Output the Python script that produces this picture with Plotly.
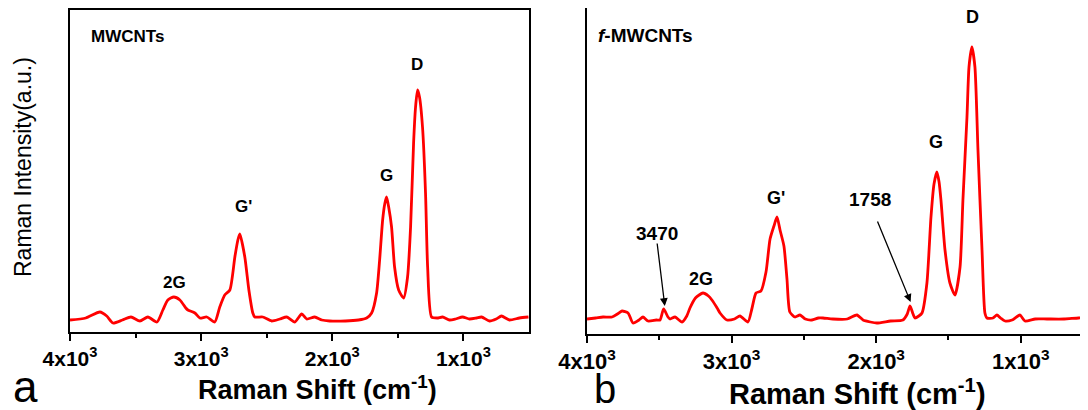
import plotly.graph_objects as go

# ---- data ----
# Panel a: MWCNTs
wn_a = [4000, 3880, 3772, 3720, 3672, 3600, 3535, 3467, 3406, 3337, 3292, 3254, 3208,
        3162, 3117, 3101, 3048, 3010, 2957, 2896, 2858, 2820, 2781, 2743, 2720, 2705,
        2667, 2636, 2606, 2591, 2530, 2462, 2400, 2347, 2286, 2233, 2195, 2134, 2080,
        2020, 1900, 1800, 1738, 1700, 1662, 1639, 1616, 1600, 1586, 1570, 1548, 1525,
        1494, 1456, 1426, 1403, 1380, 1365, 1350, 1335, 1312, 1289, 1273, 1243, 1200,
        1159, 1106, 1060, 1007, 954, 900, 862, 801, 750, 710, 649, 573, 504]
int_a = [12, 14, 20, 16, 9, 12, 15, 11, 15, 10, 22, 32, 35,
         32, 24, 22, 19, 14, 15, 10, 25, 37, 42, 75, 92, 98,
         75, 42, 19, 15, 15, 11, 13, 15, 10, 18, 13, 15, 12,
         11, 11, 12, 14, 19, 39, 72, 112, 128, 135, 125, 105, 65,
         42, 34, 55, 105, 189, 225, 242, 235, 205, 139, 65, 15, 14,
         15, 12, 13, 15, 13, 14, 15, 11, 13, 16, 12, 14, 15]

# Panel b: f-MWCNTs
wn_b = [4000, 3940, 3889, 3827, 3790, 3758, 3716, 3682, 3640, 3613, 3578, 3520, 3495,
        3470, 3440, 3426, 3391, 3343, 3310, 3288, 3250, 3198, 3160, 3136, 3100, 3080,
        3032, 2980, 2942, 2887, 2860, 2831, 2797, 2762, 2734, 2707, 2686, 2665, 2638,
        2617, 2597, 2562, 2527, 2490, 2444, 2400, 2368, 2300, 2200, 2133, 2091, 2040,
        1995, 1900, 1815, 1785, 1766, 1745, 1732, 1705, 1683, 1649, 1621, 1600, 1580,
        1565, 1552, 1524, 1490, 1455, 1420, 1400, 1372, 1358, 1338, 1317, 1296, 1268,
        1248, 1234, 1192, 1165, 1140, 1109, 1060, 1006, 971, 900, 819, 700, 600, 535]
int_b = [15, 16, 17, 17, 20, 23, 21, 11, 14, 17, 13, 14, 14,
         25, 17, 15, 17, 12, 18, 26, 36, 41, 38, 34, 26, 21,
         14, 15, 18, 12, 25, 41, 43, 62, 95, 108, 117, 104, 88,
         55, 22, 17, 19, 15, 14, 16, 16, 15, 15, 19, 14, 12,
         11, 13, 14, 20, 28, 20, 16, 18, 21, 51, 117, 150, 162,
         152, 134, 84, 51, 39, 67, 134, 217, 267, 287, 267, 184, 84,
         21, 16, 16, 19, 16, 13, 14, 19, 13, 15, 15, 15, 16, 16]

tick_vals = [4000, 3000, 2000, 1000]
tick_text = ["4x10<sup>3</sup>", "3x10<sup>3</sup>", "2x10<sup>3</sup>", "1x10<sup>3</sup>"]

# peak labels: (wavenumber, intensity, text)
labels_a = [(3200, 50, "2G"), (2675, 126, "G'"), (1586, 157, "G"), (1357, 267, "D")]
labels_b = [(3212, 55, "2G"), (2693, 136, "G'"), (1586, 192, "G"), (1337, 317, "D"),
            (3516, 101, "3470"), (2043, 135, "1758")]
arrows_b = [((3516, 92), (3462, 28)), ((1995, 114), (1762, 32))]

# page places the figure 8 px in from the top-left corner
OFF = 8
W, H = 1088 - OFF, 410 - OFF
FONT = "Arial, 'Liberation Sans', sans-serif"
RED = "#ff0000"


def px(x):
    return min(max((x - OFF) / W, 0.0), 1.0)


def py(y):
    return min(max(1 - (y - OFF) / H, 0.0), 1.0)


fig = go.Figure()
fig.add_trace(go.Scatter(x=wn_a, y=int_a, xaxis="x", yaxis="y", mode="lines",
                         line=dict(color=RED, width=2.8, shape="spline", smoothing=0.6),
                         showlegend=False, hoverinfo="skip"))
fig.add_trace(go.Scatter(x=wn_b, y=int_b, xaxis="x2", yaxis="y2", mode="lines",
                         line=dict(color=RED, width=2.8, shape="spline", smoothing=0.6),
                         showlegend=False, hoverinfo="skip"))


def xax(domain, rng, anchor, size):
    return dict(domain=domain, range=rng, anchor=anchor, tickmode="array",
                tickvals=tick_vals, ticktext=tick_text, ticks="outside", ticklen=7,
                tickwidth=2, tickcolor="black", showline=True, linewidth=2,
                linecolor="black", mirror=True, showgrid=False, zeroline=False,
                automargin=False,
                tickfont=dict(family=FONT, size=size, color="black", weight="bold"),
                minor=dict(tickmode="array", tickvals=[3500, 2500, 1500],
                           ticks="outside", ticklen=4, tickwidth=2, tickcolor="black",
                           showgrid=False))


def yax(domain, rng, anchor, mirror):
    return dict(domain=domain, range=rng, anchor=anchor, showticklabels=False,
                ticks="", showline=True, linewidth=2, linecolor="black",
                mirror=mirror, showgrid=False, zeroline=False, automargin=False)


fig.update_layout(
    width=W, height=H,
    margin=dict(l=0, r=0, t=0, b=0, pad=0, autoexpand=False),
    paper_bgcolor="white", plot_bgcolor="white", showlegend=False,
    xaxis=xax([px(70), px(529)], [4000, 500], "y", 21),
    yaxis=yax([py(332), py(10)], [0, 322], "x", True),
    xaxis2=xax([px(587), 1.0], [4000, 535], "y2", 22),
    yaxis2=yax([py(334), py(8)], [0, 326], "x2", False),
)

ann = []
for (w, v, t) in labels_a:
    ann.append(dict(x=w, y=v, xref="x", yref="y", text=t, showarrow=False,
                    xanchor="center", yanchor="middle",
                    font=dict(family=FONT, size=17, color="black", weight="bold")))
for (w, v, t) in labels_b:
    ann.append(dict(x=w, y=v, xref="x2", yref="y2", text=t, showarrow=False,
                    xanchor="center", yanchor="middle",
                    font=dict(family=FONT, size=19 if t.isdigit() else 18,
                              color="black", weight="bold")))
for (tail, tip) in arrows_b:
    ann.append(dict(x=tip[0], y=tip[1], ax=tail[0], ay=tail[1], xref="x2", yref="y2",
                    axref="x2", ayref="y2", text="", showarrow=True, arrowhead=2,
                    arrowsize=1.2, arrowwidth=1.3, arrowcolor="black"))
# sample names
ann.append(dict(x=3855, y=295, xref="x", yref="y", text="MWCNTs", showarrow=False,
                xanchor="left", yanchor="middle",
                font=dict(family=FONT, size=17, color="black", weight="bold")))
ann.append(dict(x=3938, y=299, xref="x2", yref="y2", text="<i>f</i>-MWCNTs", showarrow=False,
                xanchor="left", yanchor="middle",
                font=dict(family=FONT, size=19, color="black", weight="bold")))
# axis titles
ann.append(dict(x=px(317), y=py(388), xref="paper", yref="paper",
                text="Raman Shift (cm<sup>-1</sup>)", showarrow=False,
                xanchor="center", yanchor="middle",
                font=dict(family=FONT, size=27, color="black", weight="bold")))
ann.append(dict(x=px(857), y=py(392), xref="paper", yref="paper",
                text="Raman Shift (cm<sup>-1</sup>)", showarrow=False,
                xanchor="center", yanchor="middle",
                font=dict(family=FONT, size=29, color="black", weight="bold")))
ann.append(dict(x=px(23), y=py(167), xref="paper", yref="paper",
                text="Raman Intensity(a.u.)", textangle=-90, showarrow=False,
                xanchor="center", yanchor="middle",
                font=dict(family=FONT, size=23, color="black")))
# panel letters
ann.append(dict(x=px(25), y=py(386), xref="paper", yref="paper", text="a",
                showarrow=False, xanchor="center", yanchor="middle",
                font=dict(family=FONT, size=44, color="black")))
ann.append(dict(x=px(605), y=py(389), xref="paper", yref="paper", text="b",
                showarrow=False, xanchor="center", yanchor="middle",
                font=dict(family=FONT, size=40, color="black")))

fig.update_layout(annotations=ann)
fig.write_html("out.html")
